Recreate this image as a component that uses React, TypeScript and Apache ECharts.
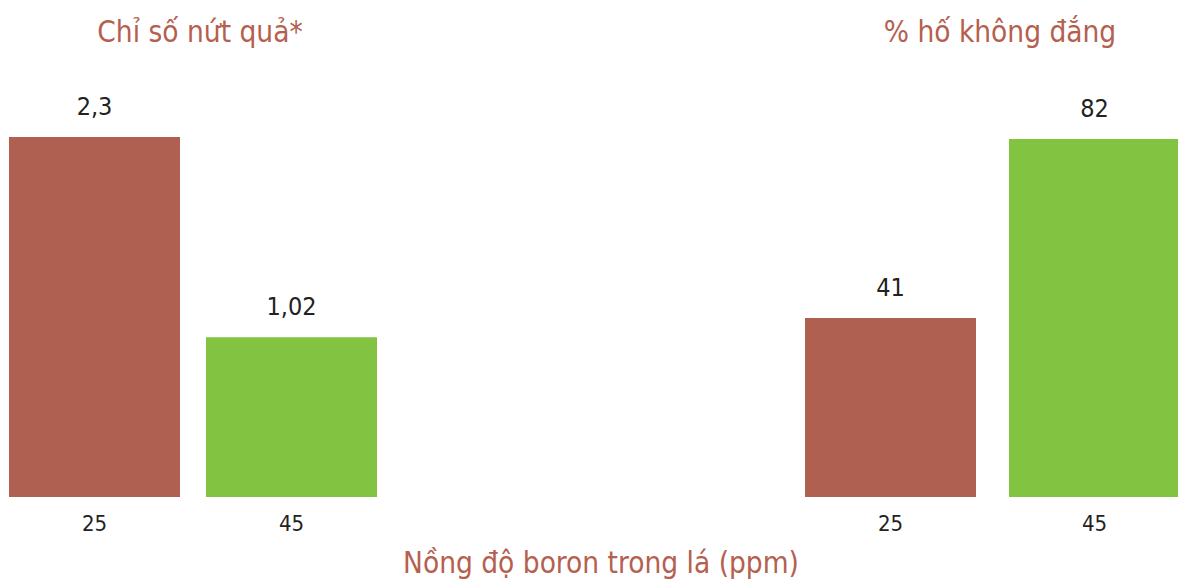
import React, { useEffect, useRef } from "react";
import * as echarts from "echarts";

const categories = ["25", "45"];
const crackIndex = [2.3, 1.02];
const hollowPct = [41, 82];
const barColors = ["#B06050", "#82C341"];
const titleLeft = "Chỉ số nứt quả*";
const titleRight = "% hố không đắng";
const xTitle = "Nồng độ boron trong lá (ppm)";

const FONT = "DejaVu Sans Condensed";
const TITLE_COLOR = "#B5604F";

export default function App() {
  const ref = useRef<HTMLDivElement>(null);
  useEffect(() => {
    if (!ref.current) return;
    document.body.style.margin = "0";
    document.body.style.overflow = "hidden";
    const chart = echarts.init(ref.current, undefined, { renderer: "svg", width: 1178, height: 583 });
    const fmt = (p: any) => String(p.value).replace(".", ",");
    const mkData = (vals: number[]) =>
      vals.map((v, i) => ({ value: v, itemStyle: { color: barColors[i] } }));
    const xAxisBase = {
      type: "category",
      data: categories,
      boundaryGap: false,
      axisLine: { show: false },
      axisTick: { show: false },
      axisLabel: { color: "#222", fontSize: 22, fontFamily: FONT, margin: 15 },
    };
    const labelCfg = { show: true, position: "top", distance: 18, color: "#222", fontSize: 25, fontFamily: FONT, formatter: fmt };
    const titleStyle = { color: TITLE_COLOR, fontSize: 29.5, fontWeight: "normal", fontFamily: FONT };
    chart.setOption({
      animation: false,
      textStyle: { fontFamily: FONT },
      title: [
        { text: titleLeft, left: 195, top: 12, textAlign: "center", textStyle: titleStyle },
        { text: titleRight, left: 995, top: 12, textAlign: "center", textStyle: titleStyle },
        { text: xTitle, left: 596, top: 543, textAlign: "center", textStyle: titleStyle },
      ],
      grid: [
        { left: 94.5, width: 197, top: 137, height: 360 },
        { left: 890.5, width: 204, top: 139, height: 358 },
      ],
      xAxis: [
        { ...xAxisBase, gridIndex: 0 },
        { ...xAxisBase, gridIndex: 1 },
      ],
      yAxis: [
        { type: "value", gridIndex: 0, min: 0, max: 2.3, show: false, splitLine: { show: false } },
        { type: "value", gridIndex: 1, min: 0, max: 82, show: false, splitLine: { show: false } },
      ],
      series: [
        {
          type: "bar",
          xAxisIndex: 0,
          yAxisIndex: 0,
          data: mkData(crackIndex),
          barWidth: 171,
          clip: false,
          label: labelCfg,
        },
        {
          type: "bar",
          xAxisIndex: 1,
          yAxisIndex: 1,
          data: mkData(hollowPct),
          barWidth: 171,
          clip: false,
          label: labelCfg,
        },
      ],
    });
    return () => chart.dispose();
  }, []);
  return <div ref={ref} style={{ width: 1178, height: 583 }} />;
}
